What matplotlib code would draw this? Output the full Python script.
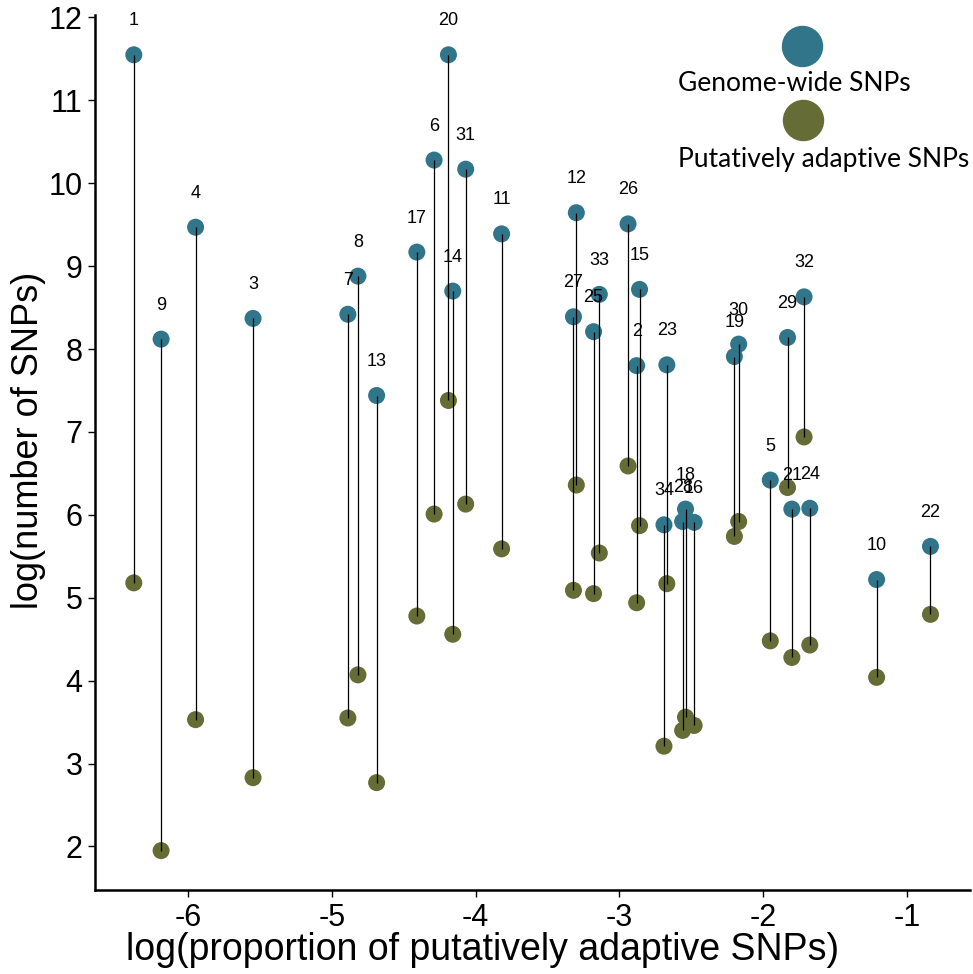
import matplotlib
matplotlib.use("Agg")
import matplotlib.pyplot as plt

ids = [1, 2, 3, 4, 5, 6, 7, 8, 9, 10, 11, 12, 13, 14, 15, 16, 17,
       18, 19, 20, 21, 22, 23, 24, 25, 26, 27, 28, 29, 30, 31, 32, 33, 34]
log_prop = [-6.38, -2.88, -5.55, -5.95, -1.95, -4.29, -4.89, -4.82, -6.19, -1.21,
            -3.82, -3.30, -4.69, -4.16, -2.86, -2.48, -4.41, -2.54, -2.20, -4.19,
            -1.80, -0.835, -2.67, -1.675, -3.18, -2.94, -3.32, -2.56, -1.83, -2.17,
            -4.07, -1.715, -3.14, -2.69]
genome_wide = [11.55, 7.80, 8.37, 9.47, 6.42, 10.28, 8.42, 8.88, 8.12, 5.22,
               9.39, 9.645, 7.44, 8.70, 8.72, 5.91, 9.17, 6.07, 7.91, 11.55,
               6.07, 5.62, 7.81, 6.08, 8.21, 9.51, 8.39, 5.92, 8.14, 8.06,
               10.17, 8.63, 8.66, 5.88]
adaptive = [5.18, 4.94, 2.83, 3.53, 4.48, 6.01, 3.55, 4.07, 1.95, 4.04,
            5.59, 6.36, 2.77, 4.56, 5.87, 3.46, 4.78, 3.56, 5.74, 7.38,
            4.28, 4.80, 5.17, 4.43, 5.05, 6.59, 5.09, 3.40, 6.33, 5.92,
            6.13, 6.94, 5.54, 3.21]
legend_labels = ["Genome-wide SNPs", "Putatively adaptive SNPs"]

teal = "#31758A"
olive = "#656C35"
axis_font = ["Liberation Sans", "DejaVu Sans"]

fig = plt.figure(figsize=(9.73, 9.74), dpi=100)
ax = fig.add_axes([95 / 973, 84 / 974, 875 / 973, 875 / 974])

ax.vlines(log_prop, adaptive, genome_wide, colors="black", linewidth=0.9, zorder=3)
ax.scatter(log_prop, genome_wide, s=150, color=teal, edgecolors="none", zorder=2)
ax.scatter(log_prop, adaptive, s=150, color=olive, edgecolors="none", zorder=2)

for i, x, y in zip(ids, log_prop, genome_wide):
    ax.annotate(str(i), (x, y), xytext=(0, 24.5), textcoords="offset points",
                ha="center", va="center", fontsize=13,
                family=["Liberation Sans", "DejaVu Sans"], zorder=4)

ax.set_xlim(-6.65, -0.56)
ax.set_ylim(1.475, 12.03)
ax.set_xticks([-6, -5, -4, -3, -2, -1])
ax.set_xticklabels(["-6", "-5", "-4", "-3", "-2", "-1"])
ax.set_yticks(range(2, 13))

for s in ["top", "right"]:
    ax.spines[s].set_visible(False)
for s in ["left", "bottom"]:
    ax.spines[s].set_linewidth(1.8)
ax.tick_params(axis="both", length=5, width=1, labelsize=22, pad=4)
for lab in ax.get_xticklabels() + ax.get_yticklabels():
    lab.set_family(axis_font)

ax.set_xlabel("log(proportion of putatively adaptive SNPs)", fontsize=27,
              family=axis_font)
ax.xaxis.set_label_coords((483 - 95) / 875, -0.048)
ax.set_ylabel("log(number of SNPs)", fontsize=26, family=axis_font)
ax.yaxis.set_label_coords(-0.056, (890 - 440) / 875)

# legend drawn manually
ax.scatter([0.808], [0.965], s=830, color=teal, transform=ax.transAxes,
           clip_on=False, zorder=5)
ax.text(0.666, 0.922, legend_labels[0], transform=ax.transAxes, ha="left",
        va="center", fontsize=19, family=["Lato", "DejaVu Sans"])
ax.scatter([0.809], [0.880], s=830, color=olive, transform=ax.transAxes,
           clip_on=False, zorder=5)
ax.text(0.666, 0.8346, legend_labels[1], transform=ax.transAxes, ha="left",
        va="center", fontsize=19, family=["Lato", "DejaVu Sans"])

fig.savefig("out.png", dpi=100)
